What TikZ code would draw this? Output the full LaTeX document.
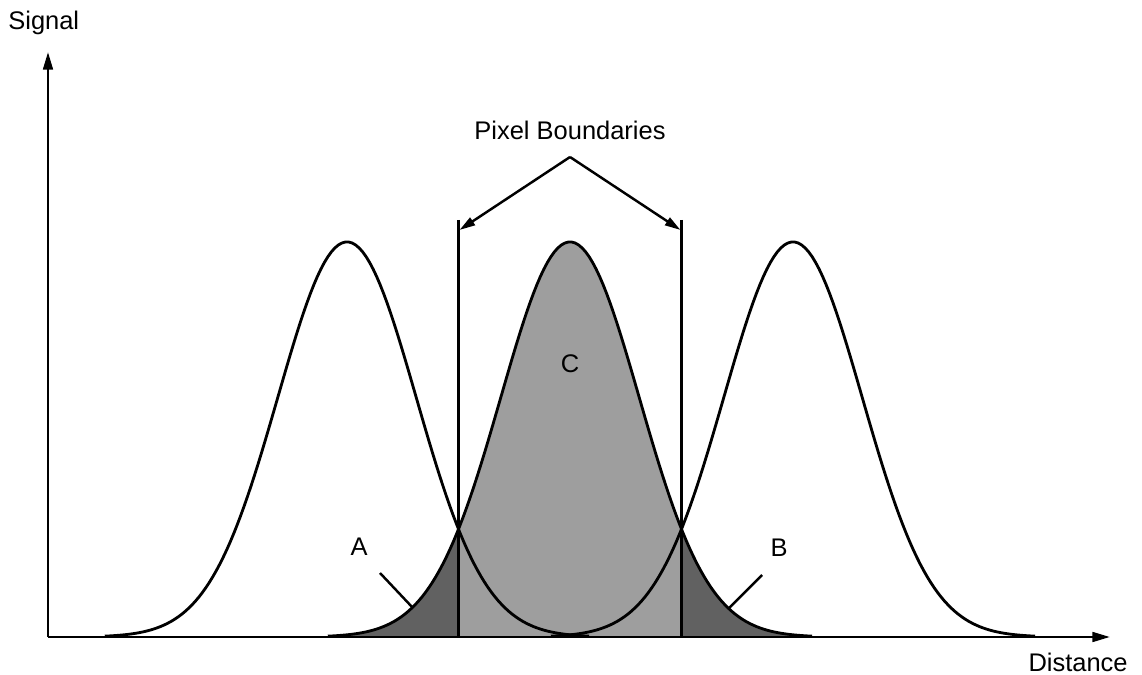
\documentclass[tikz,border=0pt]{standalone}
\usepackage{fontspec}
\setmainfont{Liberation Sans}
\usetikzlibrary{arrows.meta}
\tikzset{
  lbl/.style={inner sep=0pt, font=\fontsize{14.5}{17}\selectfont},
  axisline/.style={line width=1.5pt, -{Triangle[length=10pt,width=5.5pt]}},
  curve/.style={line width=1.6pt, line join=round},
  pbarrow/.style={line width=1.4pt, -{Triangle[length=9pt,width=5pt]}},
  thinline/.style={line width=1.4pt},
  lightfill/.style={fill=black!38},
  darkfill/.style={fill=black!62},
}
\begin{document}
\begin{tikzpicture}[x=0.02cm,y=-0.02cm]
\useasboundingbox (0,0) rectangle (1142,675);
% fills under the centre curve
\fill[lightfill] plot[domain=-1.611:1.611,samples=80] ({570+69.2*\x},{637-395*exp(-\x*\x/2)}) -- (681.5,637) -- (458.5,637) -- cycle;
\fill[darkfill] plot[domain=-3.5:-1.611,samples=60] ({570+69.2*\x},{637-395*exp(-\x*\x/2)}) -- (458.5,637) -- cycle;
\fill[darkfill] (681.5,637) -- plot[domain=1.611:3.5,samples=60] ({570+69.2*\x},{637-395*exp(-\x*\x/2)}) -- cycle;
% curves
\draw[curve] plot[domain=-3.5:3.5,samples=140] ({347+69.2*\x},{637-395*exp(-\x*\x/2)});
\draw[curve] plot[domain=-3.5:3.5,samples=140] ({570+69.2*\x},{637-395*exp(-\x*\x/2)});
\draw[curve] plot[domain=-3.5:3.5,samples=140] ({793+69.2*\x},{637-395*exp(-\x*\x/2)});
% axes
\coordinate (origin) at (48,637);
\coordinate (ytip) at (48,52);
\coordinate (xtip) at (1110,637);
\draw[axisline] (origin) -- (ytip);
\draw[axisline] (origin) -- (xtip);
% pixel boundaries
\coordinate (pbLt) at (458.5,220);
\coordinate (pbLb) at (458.5,637);
\coordinate (pbRt) at (681.5,220);
\coordinate (pbRb) at (681.5,637);
\draw[thinline] (pbLt) -- (pbLb);
\draw[thinline] (pbRt) -- (pbRb);
\coordinate (apex) at (570,157);
\coordinate (pbLa) at (459.5,230);
\coordinate (pbRa) at (680.5,230);
\draw[pbarrow] (apex) -- (pbLa);
\draw[pbarrow] (apex) -- (pbRa);
% labels
\node[lbl, anchor=base west] (signal) at (8,30) {Signal};
\node[lbl, anchor=base east] (distance) at (1128,671) {Distance};
\node[lbl, anchor=base] (pixb) at (570,140) {Pixel Boundaries};
\node[lbl, anchor=base] (labA) at (359,555) {A};
\node[lbl, anchor=base] (labB) at (779,556) {B};
\node[lbl, anchor=base] (labC) at (570,373) {C};
\coordinate (aS) at (380,573);
\coordinate (aE) at (413,608);
\coordinate (bS) at (762,575);
\coordinate (bE) at (729,608);
\draw[thinline] (aS) -- (aE);
\draw[thinline] (bS) -- (bE);
\end{tikzpicture}
\end{document}
